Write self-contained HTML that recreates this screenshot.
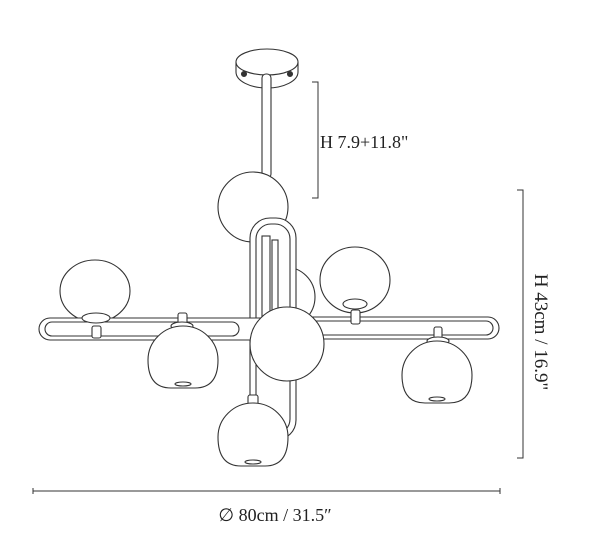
<!DOCTYPE html>
<html><head><style>
html,body{margin:0;padding:0;background:#fff;}
svg{display:block;}
text{font-family:"Liberation Serif",serif;fill:#222;}
</style></head><body>
<svg width="600" height="542" viewBox="0 0 600 542" xmlns="http://www.w3.org/2000/svg">
<g fill="#fff" stroke="#333" stroke-width="1.1">
<!-- canopy -->
<path d="M236 62 L236 72 A31 16 0 0 0 298 72 L298 62"/>
<ellipse cx="267" cy="62" rx="31" ry="13"/>
<circle cx="244" cy="74" r="2.5" fill="#333"/>
<circle cx="290" cy="74" r="2.5" fill="#333"/>
<rect x="262" y="74" width="9" height="104" rx="4"/>
<!-- back globes -->
<circle cx="253" cy="207" r="35"/>
<circle cx="285" cy="297" r="30"/>
<ellipse cx="95" cy="291" rx="35" ry="31"/>
<ellipse cx="355" cy="280" rx="35" ry="33"/>
<!-- vertical loop -->
<rect x="250" y="218" width="46" height="222" rx="20"/>
<rect x="256" y="224" width="34" height="210" rx="15"/>
<rect x="262" y="236" width="8" height="90"/>
<rect x="272" y="240" width="6" height="86"/>
<!-- bar -->
<path d="M50 318 L300 318 L300 340 L50 340 A11 11 0 0 1 50 318 Z"/>
<path d="M52 322 L232 322 A7 7 0 0 1 232 336 L52 336 A7 7 0 0 1 52 322 Z"/>
<path d="M300 317 L488 317 A11 11 0 0 1 488 339 L300 339 Z"/>
<path d="M300 321 L486 321 A7 7 0 0 1 486 335 L300 335 Z"/>
<!-- fittings -->
<ellipse cx="96" cy="318" rx="14" ry="5"/>
<rect x="92" y="326" width="9" height="12" rx="2"/>
<ellipse cx="355" cy="304" rx="12" ry="5"/>
<rect x="351" y="310" width="9" height="14" rx="2"/>
<rect x="178" y="313" width="9" height="13" rx="2"/>
<ellipse cx="182" cy="326" rx="11" ry="4"/>
<rect x="434" y="327" width="8" height="12" rx="2"/>
<ellipse cx="438" cy="341" rx="11" ry="4"/>
<rect x="248" y="395" width="10" height="14" rx="2"/>
<!-- front globes -->
<path d="M148 360 A35 34 0 0 1 218 360 Q218 388 195 388 L171 388 Q148 388 148 360 Z"/>
<path d="M402 375 A35 34 0 0 1 472 375 Q472 403 449 403 L425 403 Q402 403 402 375 Z"/>
<path d="M218 437 A35 34 0 0 1 288 437 Q288 466 265 466 L241 466 Q218 466 218 437 Z"/>
<ellipse cx="183" cy="384" rx="8" ry="2"/>
<ellipse cx="437" cy="399" rx="8" ry="2"/>
<ellipse cx="253" cy="462" rx="8" ry="2"/>
<circle cx="287" cy="344" r="37"/>
</g>
<!-- dimensions -->
<g stroke="#333" stroke-width="1" fill="none">
<path d="M312 82 L318 82 L318 198 L312 198"/>
<path d="M517 190 L523 190 L523 458 L517 458"/>
<path d="M33 488 L33 494 M33 491 L500 491 M500 488 L500 494"/>
</g>
<text x="320" y="148" font-size="18">H 7.9+11.8"</text>
<text transform="translate(535 332) rotate(90)" text-anchor="middle" font-size="19">H 43cm / 16.9"</text>
<text x="275" y="521" text-anchor="middle" font-size="18">∅ 80cm / 31.5″</text>
</svg>
</body></html>
